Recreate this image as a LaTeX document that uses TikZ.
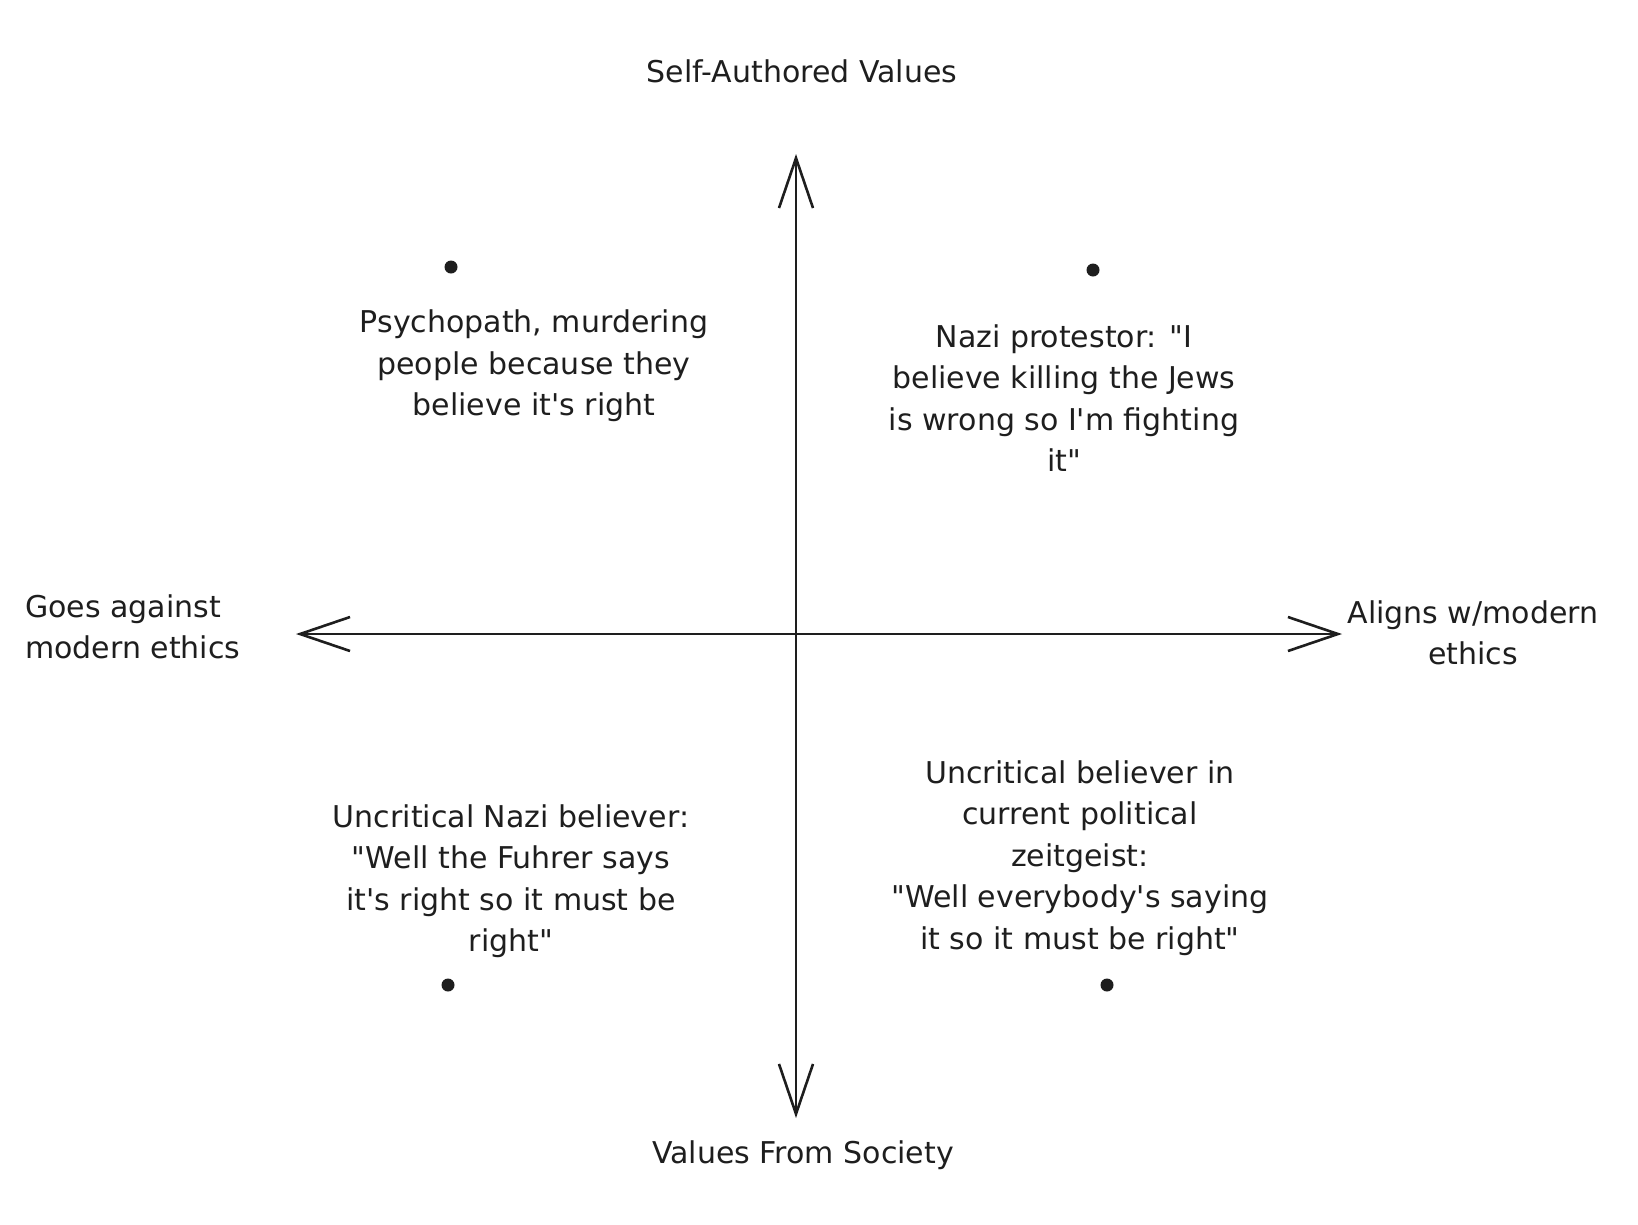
\documentclass[tikz,border=0pt]{standalone}
\usepackage{fontspec}
\setmainfont{DejaVu Sans}
\usetikzlibrary{arrows.meta}
\definecolor{ink}{HTML}{1E1E1E}
\newcommand{\dq}{\textquotedbl}
\newcommand{\sq}{\textquotesingle}
\begin{document}
\begin{tikzpicture}[x=1pt,y=-1pt,
  barb/.tip={Straight Barb[length=50pt,width=34pt,line width=2.6pt]},
  axisline/.style={draw=ink, line width=2.9pt, barb-barb},
  lbl/.style={text=ink, font=\fontsize{30}{41.5}\selectfont, align=center, inner sep=0pt},
  dotmark/.style={circle, fill=ink, minimum size=13pt, inner sep=0pt}]
\useasboundingbox[fill=white] (0,0) rectangle (1638,1224);
% axis end points
\coordinate (top) at (796,154);
\coordinate (bottom) at (796,1118);
\coordinate (left) at (296,634);
\coordinate (right) at (1342,634);
\draw[axisline] (bottom) -- (top);
\draw[axisline] (left) -- (right);
% axis labels
\node[lbl] (selfauth) at (802,71) {Self-Authored Values};
\node[lbl] (society) at (803,1155) {Values From Society};
\node[lbl, align=left, anchor=west] (against) at (25,627) {Goes against\\modern ethics};
\node[lbl] (aligns) at (1473,633) {Aligns w/modern\\ethics};
% dots
\node[dotmark] (dtl) at (451,267) {};
\node[dotmark] (dtr) at (1093,270) {};
\node[dotmark] (dbl) at (448,985) {};
\node[dotmark] (dbr) at (1107,985) {};
% quadrant texts
\node[lbl] (psycho) at (534,366) {Psychopath, murdering\\people because they\\believe it\sq s right};
\node[lbl] (protest) at (1064,398) {Nazi protestor: \dq I\\believe killing the Jews\\is wrong so I\sq m fighting\\it\dq};
\node[lbl] (nazibel) at (511,881) {Uncritical Nazi believer:\\\dq Well the Fuhrer says\\it\sq s right so it must be\\right\dq};
\node[lbl] (zeitg) at (1080,858) {Uncritical believer in\\current political\\zeitgeist:\\\dq Well everybody\sq s saying\\it so it must be right\dq};
\end{tikzpicture}
\end{document}
